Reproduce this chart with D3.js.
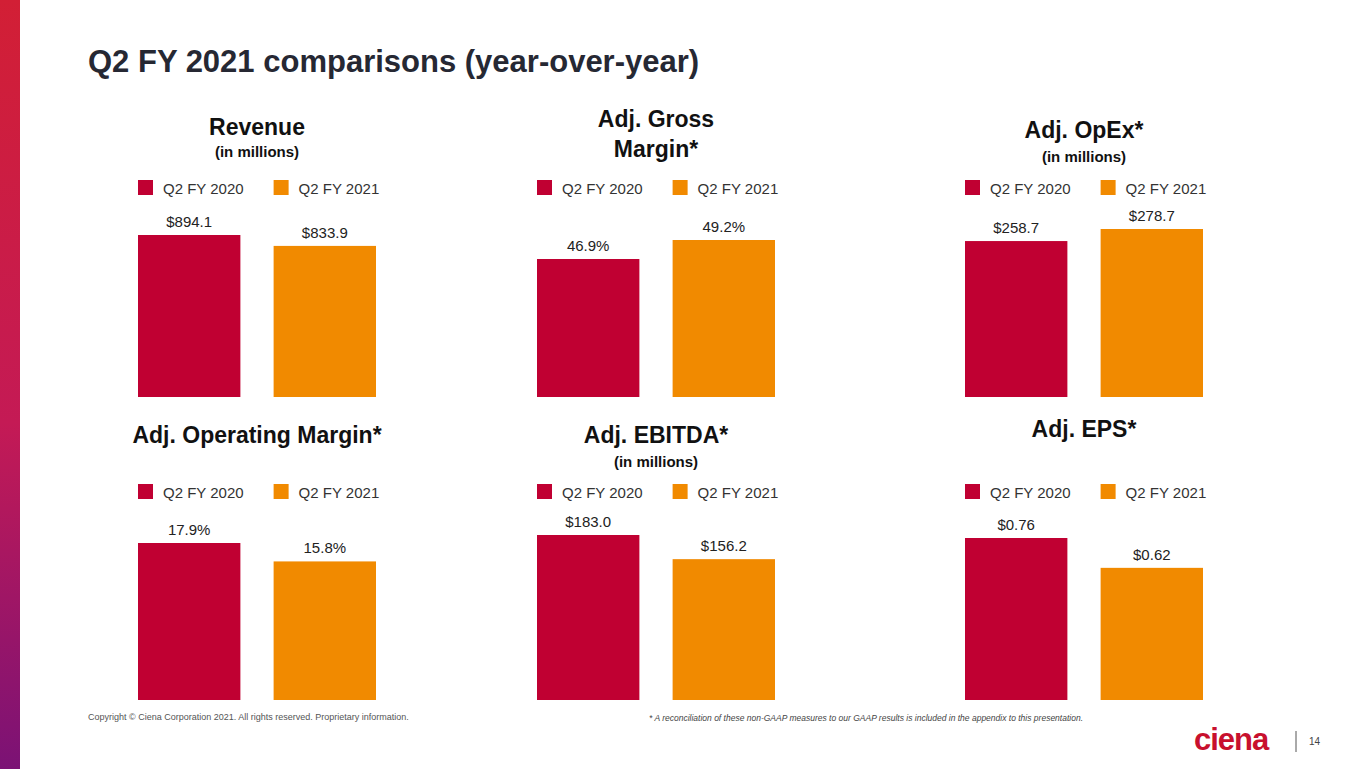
<!DOCTYPE html>
<html><head><meta charset="utf-8">
<script src="https://cdn.jsdelivr.net/npm/d3@7"></script>
<style>body{margin:0;background:#fff;font-family:Arial,"Liberation Sans",sans-serif}</style>
</head><body><div id="main"></div>
<script>
const w = 1365, h = 769;
const series = ["Q2 FY 2020", "Q2 FY 2021"];
const colors = ["#c00032", "#f18a00"];
const titles = [["Revenue"], ["Adj. Gross", "Margin*"], ["Adj. OpEx*"], ["Adj. Operating Margin*"], ["Adj. EBITDA*"], ["Adj. EPS*"]];
const subtitles = ["(in millions)", "", "(in millions)", "", "(in millions)", ""];
const values = [[894.1, 833.9], [46.9, 49.2], [258.7, 278.7], [17.9, 15.8], [183.0, 156.2], [0.76, 0.62]];
const labels = [["$894.1", "$833.9"], ["46.9%", "49.2%"], ["$258.7", "$278.7"], ["17.9%", "15.8%"], ["$183.0", "$156.2"], ["$0.76", "$0.62"]];
const domainLo = [0, 30.2, 0, 0, 0, 0];

const svg = d3.select("#main").append("svg").attr("width", w).attr("height", h);

const grad = svg.append("defs").append("linearGradient").attr("id", "side")
  .attr("x1", 0).attr("y1", 0).attr("x2", 0).attr("y2", 1);
grad.append("stop").attr("offset", "0%").attr("stop-color", "#d21f35");
grad.append("stop").attr("offset", "55%").attr("stop-color", "#c41a55");
grad.append("stop").attr("offset", "100%").attr("stop-color", "#7b1275");
svg.append("rect").attr("width", 20).attr("height", h).attr("fill", "url(#side)");

svg.append("text").attr("x", 88).attr("y", 72).attr("font-size", 31).attr("font-weight", "bold")
  .attr("fill", "#262833").text("Q2 FY 2021 comparisons (year-over-year)");

const colX = [138, 537, 965];
const rows = [{bottom: 397, top: 229, titleY: 135, legY: 188}, {bottom: 700, top: 535, titleY: 443, legY: 492}];
const topPx = [235, 240, 229, 543, 535, 538];

values.forEach((vals, i) => {
  const r = rows[Math.floor(i / 3)];
  const g = svg.append("g").attr("transform", `translate(${colX[i % 3]},0)`);
  const x = d3.scaleBand().domain(series).range([0, 238]).paddingInner(0.245).paddingOuter(0);
  const y = d3.scaleLinear().domain([domainLo[i], d3.max(vals)]).range([r.bottom, topPx[i]]);
  const cx = 119;
  const t = titles[i];
  let ty = r.titleY - (t.length > 1 ? 8 : 0) - (i === 2 ? -3 : 0) - (i === 5 ? 6 : 0);
  t.forEach((line, k) => g.append("text").attr("x", cx).attr("y", ty + k * 30).attr("text-anchor", "middle")
    .attr("font-size", 23).attr("font-weight", "bold").attr("fill", "#111").text(line));
  if (subtitles[i]) g.append("text").attr("x", cx).attr("y", ty + (i === 0 ? 22 : 24)).attr("text-anchor", "middle")
    .attr("font-size", 15).attr("font-weight", "bold").attr("fill", "#111").text(subtitles[i]);
  series.forEach((s, k) => {
    const lx = x(s);
    g.append("rect").attr("x", lx).attr("y", r.legY - 8).attr("width", 15).attr("height", 15).attr("fill", colors[k]);
    g.append("text").attr("x", lx + 25).attr("y", r.legY + 6).attr("font-size", 15).attr("fill", "#333").text(s);
  });
  g.selectAll(".bar").data(vals).enter().append("rect")
    .attr("x", (d, k) => x(series[k])).attr("width", x.bandwidth())
    .attr("y", d => y(d)).attr("height", d => r.bottom - y(d)).attr("fill", (d, k) => colors[k]);
  g.selectAll(".lbl").data(vals).enter().append("text")
    .attr("x", (d, k) => x(series[k]) + x.bandwidth() / 2).attr("y", d => y(d) - 8)
    .attr("text-anchor", "middle").attr("font-size", 15).attr("fill", "#222")
    .text((d, k) => labels[i][k]);
});

svg.append("text").attr("x", 88).attr("y", 720).attr("font-size", 9).attr("fill", "#555")
  .text("Copyright © Ciena Corporation 2021. All rights reserved. Proprietary information.");
svg.append("text").attr("x", 1083).attr("y", 721).attr("text-anchor", "end").attr("font-size", 8.5)
  .attr("font-style", "italic").attr("fill", "#444")
  .text("* A reconciliation of these non-GAAP measures to our GAAP results is included in the appendix to this presentation.");
svg.append("text").attr("x", 1194).attr("y", 750).attr("font-size", 31).attr("font-weight", "bold")
  .attr("fill", "#c8102e").attr("letter-spacing", -1).text("ciena");
svg.append("line").attr("x1", 1296).attr("x2", 1296).attr("y1", 731).attr("y2", 752).attr("stroke", "#555");
svg.append("text").attr("x", 1309).attr("y", 745).attr("font-size", 10).attr("fill", "#444").text("14");
</script></body></html>
